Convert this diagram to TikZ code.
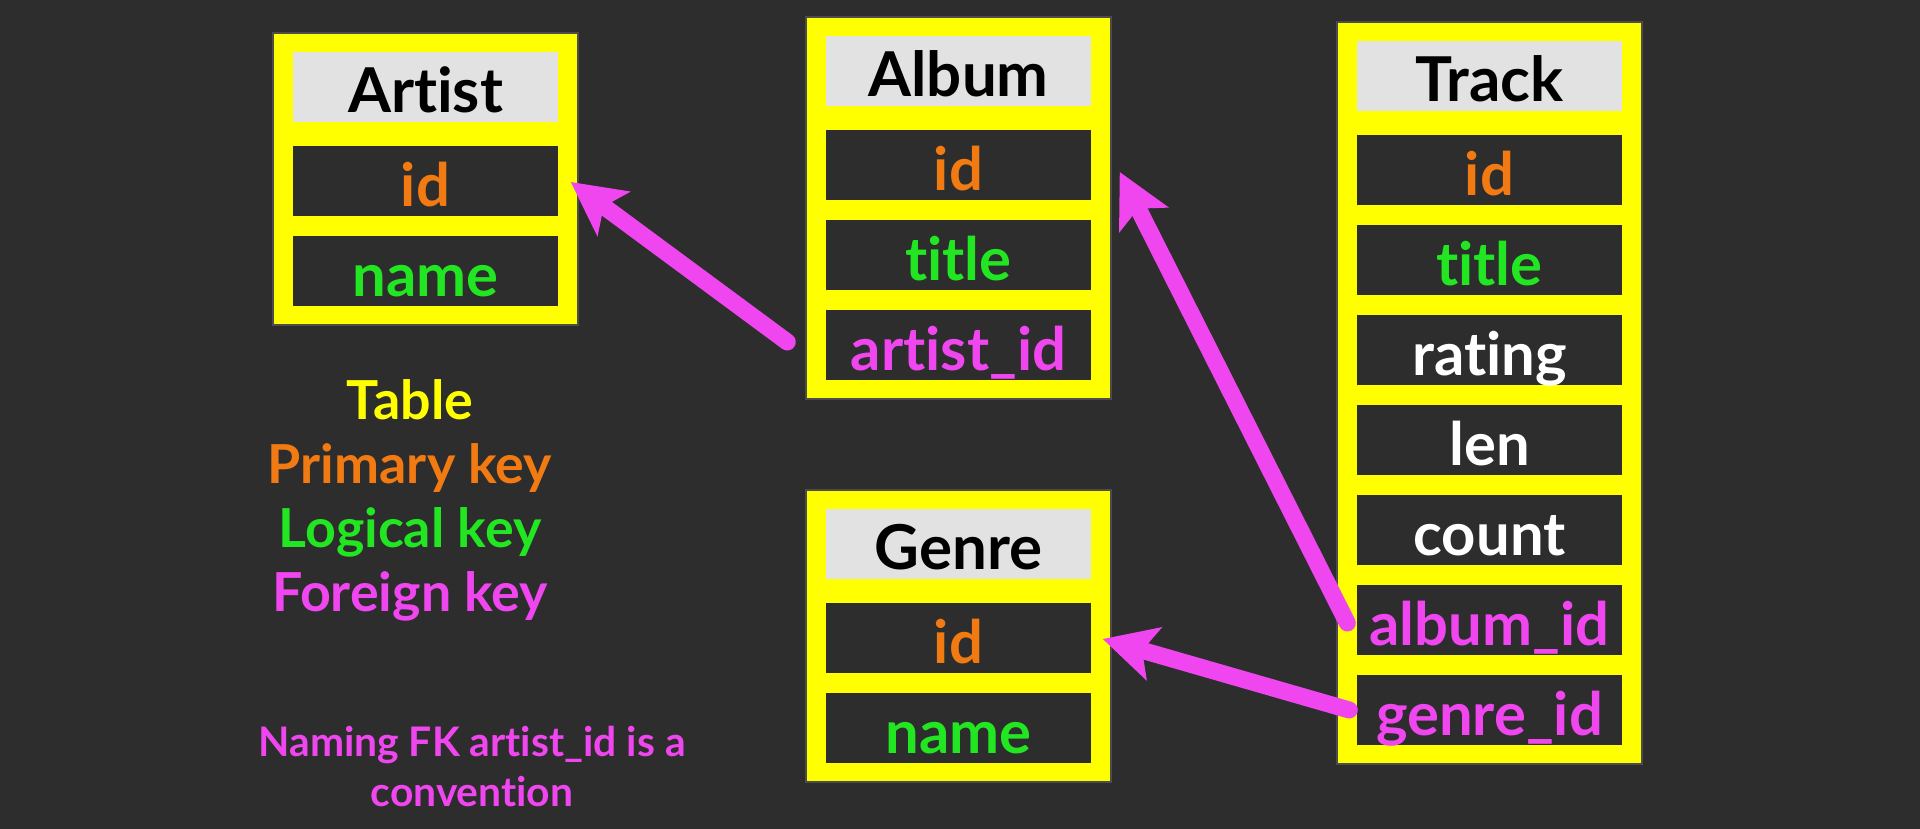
\documentclass[tikz,border=0pt]{standalone}
\usepackage{fontspec}
\setmainfont{Lato}[Ligatures=NoCommon]
\usetikzlibrary{arrows.meta}

\definecolor{bg}{HTML}{2D2D2D}
\definecolor{boxyellow}{HTML}{FFFF00}
\definecolor{hdrgray}{HTML}{E2E2E2}
\definecolor{pkorange}{HTML}{F27A12}
\definecolor{lkgreen}{HTML}{22E622}
\definecolor{fkpink}{HTML}{F046F0}

\begin{document}
\begin{tikzpicture}[
    tbl/.style={fill=boxyellow, draw=black!70, line width=0.6pt},
    fld/.style={fill=bg, minimum width=2.65cm, minimum height=0.70cm, inner sep=0pt,
                text height=0.61cm, text depth=0.09cm, font=\fontsize{17}{19}\selectfont\bfseries},
    hdr/.style={fld, fill=hdrgray, text=black, font=\fontsize{17.6}{19}\selectfont\bfseries},
    pk/.style={fld, text=pkorange},
    lk/.style={fld, text=lkgreen},
    fkf/.style={fld, text=fkpink},
    plain/.style={fld, text=white},
    legend/.style={anchor=base, font=\fontsize{15.3}{17}\selectfont\bfseries},
    note/.style={anchor=base, text=fkpink, font=\fontsize{11.6}{13}\selectfont\bfseries},
    fk/.style={draw=fkpink, line width=0.17cm, line cap=round,
               -{Stealth[length=0.53cm, width=0.54cm, inset=0.12cm]}}
  ]
    \fill[bg] (0,0) rectangle (19.2,8.29);

    % tables
    \filldraw[tbl] (2.73,5.04) rectangle (5.78,7.96);
    \filldraw[tbl] (8.06,4.30) rectangle (11.11,8.12);
    \filldraw[tbl] (13.37,0.65) rectangle (16.42,8.07);
    \filldraw[tbl] (8.06,0.47) rectangle (11.11,3.39);

    \draw (4.255,7.42) node[hdr](artist) {Artist};
    \draw (4.255,6.48) node[pk](artistid) {id};
    \draw (4.255,5.58) node[lk](artistname) {name};

    \draw (9.585,7.58) node[hdr](album) {Album};
    \draw (9.585,6.64) node[pk](albumid) {id};
    \draw (9.585,5.74) node[lk](albumtitle) {title};
    \draw (9.585,4.84) node[fkf](albumartist) {artist\_id};

    \draw (14.895,7.53) node[hdr](track) {Track};
    \draw (14.895,6.59) node[pk](trackid) {id};
    \draw (14.895,5.69) node[lk](tracktitle) {title};
    \draw (14.895,4.79) node[plain](trackrating) {rating};
    \draw (14.895,3.89) node[plain](tracklen) {len};
    \draw (14.895,2.99) node[plain](trackcount) {count};
    \draw (14.895,2.09) node[fkf](trackalbum) {album\_id};
    \draw (14.895,1.19) node[fkf](trackgenre) {genre\_id};

    \draw (9.585,2.85) node[hdr](genre) {Genre};
    \draw (9.585,1.91) node[pk](genreid) {id};
    \draw (9.585,1.01) node[lk](genrename) {name};

    % legend
    \draw (4.10,4.09) node[legend, text=boxyellow](lgtable) {Table};
    \draw (4.10,3.45) node[legend, text=pkorange](lgpk) {Primary key};
    \draw (4.10,2.81) node[legend, text=lkgreen](lglk) {Logical key};
    \draw (4.10,2.17) node[legend, text=fkpink](lgfk) {Foreign key};

    \draw (4.72,0.72) node[note](noteone) {Naming FK artist\_id is a};
    \draw (4.72,0.22) node[note](notetwo) {convention};

    % foreign keys
    \draw[fk] ([shift={(-0.38,0.03)}]albumartist.west) -- ([shift={(0.12,-0.01)}]artistid.east);
    \draw[fk] ([shift={(-0.09,-0.03)}]trackalbum.west) -- ([shift={(0.28,-0.07)}]albumid.east);
    \draw[fk] ([shift={(-0.07,0)}]trackgenre.west) -- ([shift={(0.11,-0.01)}]genreid.east);
\end{tikzpicture}
\end{document}
